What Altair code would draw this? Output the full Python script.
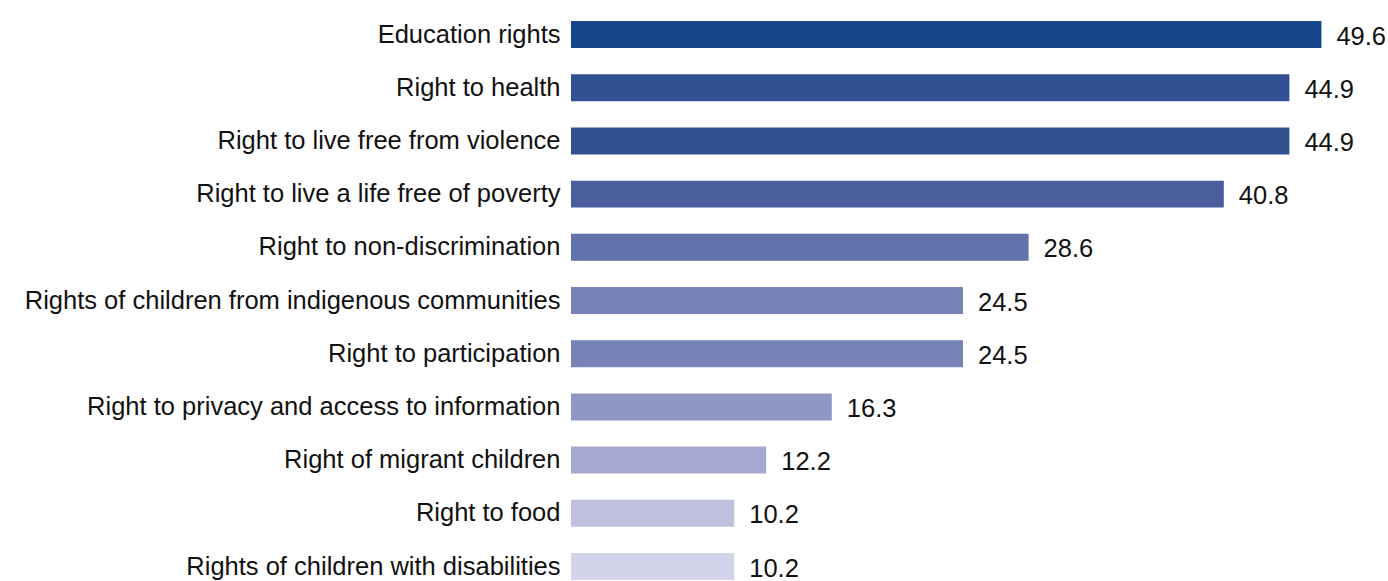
import altair as alt
import pandas as pd

categories = [
    "Education rights",
    "Right to health",
    "Right to live free from violence",
    "Right to live a life free of poverty",
    "Right to non-discrimination",
    "Rights of children from indigenous communities",
    "Right to participation",
    "Right to privacy and access to information",
    "Right of migrant children",
    "Right to food",
    "Rights of children with disabilities",
]
# bar lengths as drawn in the picture
values = [46.9, 44.9, 44.9, 40.8, 28.6, 24.5, 24.5, 16.3, 12.2, 10.2, 10.2]
# printed value labels
labels = ["49.6", "44.9", "44.9", "40.8", "28.6", "24.5", "24.5", "16.3", "12.2", "10.2", "10.2"]
colors = ["#14448a", "#315193", "#32518f", "#4a5e9e", "#6272ab", "#7783b7",
          "#7783b7", "#8f97c5", "#a7aad0", "#bfc0de", "#d3d4e9"]

df = pd.DataFrame({"cat": categories, "val": values, "lab": labels, "col": colors})

FONT = "Liberation Sans"
FS = 25.5

y = alt.Y("cat:N", sort=categories, title=None,
          scale=alt.Scale(paddingInner=0.4925, paddingOuter=0.207, align=0.955),
          axis=alt.Axis(domain=False, ticks=False, labelPadding=11, labelFont=FONT,
                        labelFontSize=FS, labelColor="#111111", labelLimit=700))
x = alt.X("val:Q", title=None, scale=alt.Scale(domain=[0, 817 / 16], nice=False),
          axis=None)

bars = alt.Chart(df).mark_bar().encode(x=x, y=y, color=alt.Color("col:N", scale=None))
text = alt.Chart(df).mark_text(align="left", baseline="middle", dx=15, dy=2, font=FONT,
                               fontSize=FS, color="#111111").encode(x=x, y=y, text="lab:N")

chart = (bars + text).properties(
    width=817, height=581,
    autosize=alt.AutoSizeParams(type="none"),
    padding={"left": 571, "top": 0, "right": 0, "bottom": 0},
).configure_view(stroke=None)

chart.save("out.html", embed_options={"renderer": "svg", "actions": False})
